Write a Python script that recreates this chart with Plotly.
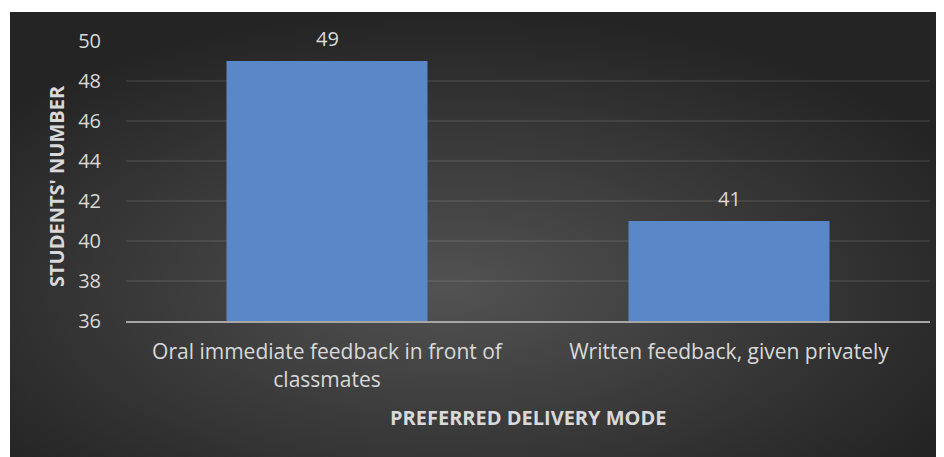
import base64
import plotly.graph_objects as go

categories = ["Oral immediate feedback in front of<br>classmates",
              "Written feedback, given privately"]
students = [49, 41]
y_ticks = [36, 38, 40, 42, 44, 46, 48, 50]

# the page puts the figure 8px in from the corner, so size it to what is visible
W, H = 936, 449
L, R, T, B = 118, 14, 33, 136
pw, ph = W - L - R, H - T - B

FONT = "Open Sans"
TXT = "#d9d9d9"

# dark radial background (Excel-like style), drawn as an svg image
bg_svg = """<svg xmlns='http://www.w3.org/2000/svg' width='934' height='445' viewBox='0 0 934 445' preserveAspectRatio='none'>
<defs><radialGradient id='g' cx='0.47' cy='0.62' r='0.62'>
<stop offset='0' stop-color='#525252'/><stop offset='1' stop-color='#242424'/>
</radialGradient></defs><rect width='934' height='445' fill='url(#g)'/></svg>"""
bg_src = "data:image/svg+xml;base64," + base64.b64encode(bg_svg.encode()).decode()

bx0, by0 = 2, 4  # where the dark panel starts in pixels
fig = go.Figure()
fig.add_trace(go.Bar(
    x=categories, y=students, width=0.5,
    marker=dict(color="#5987c7", line=dict(width=0)),
    hoverinfo="skip",
))

for c, v in zip(categories, students):
    fig.add_annotation(x=c, y=v, text=str(v), showarrow=False,
                       yanchor="bottom", yshift=7,
                       font=dict(family=FONT, size=20, color=TXT))

fig.add_annotation(text="<b>STUDENTS' NUMBER</b>", xref="paper", yref="paper",
                   x=(49 - L) / pw, y=(T + ph - 178) / ph, textangle=-90, showarrow=False,
                   xanchor="center", yanchor="middle",
                   font=dict(family=FONT, size=20, color=TXT))
fig.add_annotation(text="<b>PREFERRED DELIVERY MODE</b>", xref="paper", yref="paper",
                   x=0.5, y=-(409 - (T + ph)) / ph, showarrow=False,
                   xanchor="center", yanchor="middle",
                   font=dict(family=FONT, size=20, color=TXT))

fig.add_layout_image(dict(
    source=bg_src, xref="paper", yref="paper",
    x=(bx0 - L) / pw, y=(T + ph - by0) / ph,
    sizex=(W - bx0) / pw, sizey=(H - by0) / ph,
    xanchor="left", yanchor="top", sizing="stretch", layer="below",
))

fig.update_yaxes(range=[36, 50], tickvals=y_ticks, showgrid=True,
                 gridcolor="rgba(255,255,255,0.08)", gridwidth=1.5,
                 zeroline=False, showline=False,
                 ticks="outside", ticklen=20, tickcolor="rgba(0,0,0,0)",
                 tickfont=dict(family=FONT, size=20, color=TXT))
fig.update_xaxes(showline=True, linecolor="#a6a6a6", linewidth=2,
                 ticks="outside", ticklen=11, tickcolor="rgba(0,0,0,0)",
                 tickfont=dict(family=FONT, size=21, color=TXT))

fig.update_layout(
    width=W, height=H,
    margin=dict(l=L, r=R, t=T, b=B, autoexpand=False),
    paper_bgcolor="white", plot_bgcolor="rgba(0,0,0,0)",
    showlegend=False, bargap=0.5,
)

fig.write_html("out.html")
